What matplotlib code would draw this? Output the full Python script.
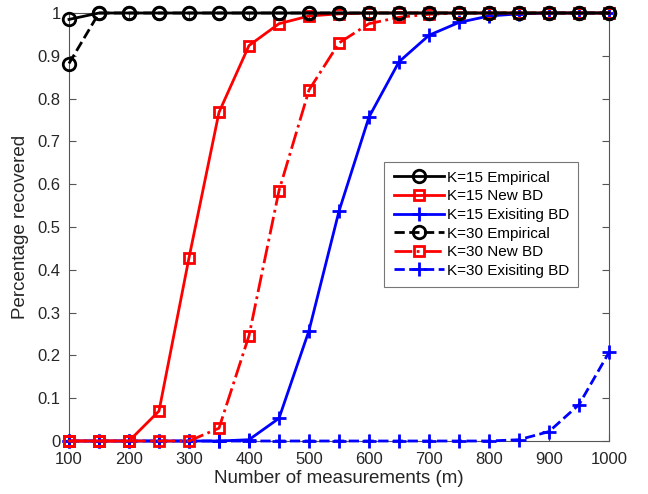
import matplotlib
matplotlib.use("Agg")
import matplotlib.pyplot as plt

m = [100, 150, 200, 250, 300, 350, 400, 450, 500, 550, 600, 650, 700, 750, 800, 850, 900, 950, 1000]
k15_emp = [0.985, 1, 1, 1, 1, 1, 1, 1, 1, 1, 1, 1, 1, 1, 1, 1, 1, 1, 1]
k15_new = [0, 0, 0, 0.07, 0.428, 0.768, 0.924, 0.975, 0.993, 0.998, 1, 1, 1, 1, 1, 1, 1, 1, 1]
k15_old = [0, 0, 0, 0, 0, 0, 0.003, 0.053, 0.258, 0.537, 0.757, 0.886, 0.948, 0.978, 0.993, 0.998, 1, 1, 1]
k30_emp = [0.882, 1, 1, 1, 1, 1, 1, 1, 1, 1, 1, 1, 1, 1, 1, 1, 1, 1, 1]
k30_new = [0, 0, 0, 0, 0, 0.03, 0.246, 0.585, 0.82, 0.93, 0.975, 0.99, 0.997, 1, 1, 1, 1, 1, 1]
k30_old = [0, 0, 0, 0, 0, 0, 0, 0, 0, 0, 0, 0, 0, 0, 0, 0.003, 0.022, 0.085, 0.207]

plt.rcParams['font.family'] = ['Liberation Sans', 'DejaVu Sans']
fig = plt.figure(figsize=(6.48, 4.94), dpi=100)
ax = fig.add_axes([69 / 648, 53 / 494, 540 / 648, 428 / 494])

lw = 2
ax.plot(m, k15_emp, '-', color='black', marker='o', ms=9, mfc='none', mew=2, lw=lw, label='K=15 Empirical', clip_on=False, zorder=5)
ax.plot(m, k15_new, '-', color='red', marker='s', ms=7, mfc='none', mew=2, lw=lw, label='K=15 New BD', clip_on=False, zorder=4)
ax.plot(m, k15_old, '-', color='blue', marker='+', ms=10, mew=2, lw=lw, label='K=15 Exisiting BD', clip_on=False, zorder=3)
ax.plot(m, k30_emp, '--', color='black', marker='o', ms=9, mfc='none', mew=2, lw=lw, label='K=30 Empirical', clip_on=False, zorder=5)
ax.plot(m, k30_new, '-.', color='red', marker='s', ms=7, mfc='none', mew=2, lw=lw, label='K=30 New BD', clip_on=False, zorder=4)
ax.plot(m, k30_old, '--', color='blue', marker='+', ms=10, mew=2, lw=lw, label='K=30 Exisiting BD', clip_on=False, zorder=3)

ax.set_xlim(100, 1000)
ax.set_ylim(0, 1)
ax.set_xticks(range(100, 1001, 100))
ax.set_yticks([i / 10 for i in range(11)])
ax.set_yticklabels(['0', '0.1', '0.2', '0.3', '0.4', '0.5', '0.6', '0.7', '0.8', '0.9', '1'])
for s in ax.spines.values():
    s.set_color('#555555')
    s.set_linewidth(0.8)
ax.tick_params(direction='in', top=True, right=True, colors='#262626', labelsize=12, length=5)
ax.tick_params(axis='both', color='#555555')
ax.tick_params(axis='x', pad=8)
ax.tick_params(axis='y', pad=6)
ax.set_xlabel('Number of measurements (m)', fontsize=13.5, color='#262626', labelpad=2)
ax.set_ylabel('Percentage recovered', fontsize=13.5, color='#262626', labelpad=6)

leg = ax.legend(loc='lower left', bbox_to_anchor=(0.584, 0.36), fontsize=11, handlelength=3.3,
                frameon=True, fancybox=False, edgecolor='#555555', borderaxespad=0, labelspacing=0.3,
                handletextpad=0.2, borderpad=0.6)
leg.get_frame().set_linewidth(0.8)

fig.savefig('out.png', dpi=100)
